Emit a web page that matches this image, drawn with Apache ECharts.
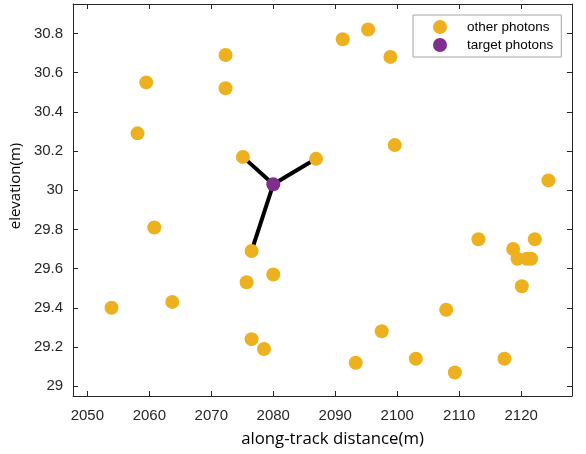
<!DOCTYPE html>
<html>
<head>
<meta charset="utf-8">
<script src="https://cdn.jsdelivr.net/npm/echarts@6/dist/echarts.min.js"></script>
<style>html,body{margin:0;padding:0;background:#fff}#c{width:586px;height:454px}</style>
</head>
<body>
<div id="c"></div>
<script>
// ---- data ----
const otherX = [2059.5, 2072.3, 2072.3, 2058.1, 2075.1, 2060.8, 2091.2, 2095.3, 2098.9, 2086.9, 2099.6, 2124.4, 2076.5, 2075.7, 2080.0, 2053.9, 2063.7, 2076.5, 2078.5, 2113.1, 2118.7, 2119.4, 2120.9, 2121.6, 2122.2, 2120.1, 2107.9, 2097.5, 2093.3, 2103.0, 2109.3, 2117.3];
const otherY = [30.55, 30.69, 30.52, 30.29, 30.17, 29.81, 30.77, 30.82, 30.68, 30.16, 30.23, 30.05, 29.69, 29.53, 29.57, 29.40, 29.43, 29.24, 29.19, 29.75, 29.70, 29.65, 29.65, 29.65, 29.75, 29.51, 29.39, 29.28, 29.12, 29.14, 29.07, 29.14];
const targetX = [2080.0];
const targetY = [30.03];
const linkIdx = [4, 9, 12]; // neighbours of the target photon
const xTicks = [2050, 2060, 2070, 2080, 2090, 2100, 2110, 2120];
const yTicks = [29, 29.2, 29.4, 29.6, 29.8, 30, 30.2, 30.4, 30.6, 30.8];
const seriesNames = ['other photons', 'target photons'];
const xName = 'along-track distance(m)';
const yName = 'elevation(m)';

const ORANGE = '#EDB120', PURPLE = '#7E2F8E', AX = '#262626';
const XMIN = 2047.7, XMAX = 2128.2, YMIN = 28.95, YMAX = 30.95;

const chart = echarts.init(document.getElementById('c'));
const linkSeries = linkIdx.map(i => ({
  type: 'line', silent: true, symbol: 'none', z: 1,
  lineStyle: { color: '#000', width: 4 },
  data: [[targetX[0], targetY[0]], [otherX[i], otherY[i]]]
}));
const tickFont = { fontFamily: 'Liberation Sans, Arial, sans-serif', fontSize: 15, color: AX };
function fmtY(v){ return Math.abs(v - Math.round(v)) < 1e-9 ? String(Math.round(v)) : v.toFixed(1); }

chart.setOption({
  animation: false,
  backgroundColor: '#fff',
  grid: { left: 73, right: 14, top: 4, bottom: 58 },
  legend: {
    orient: 'vertical', left: 413, top: 15,
    padding: [5, 8, 5, 20], itemGap: 4,
    itemWidth: 14, itemHeight: 14,
    borderColor: '#a6a6a6', borderWidth: 1, backgroundColor: '#fff',
    textStyle: { fontFamily: 'Liberation Sans, Arial, sans-serif', fontSize: 13.5, color: '#000', padding: [0, 0, 0, 15] },
    data: [
      { name: seriesNames[0], icon: 'circle', itemStyle: { color: ORANGE } },
      { name: seriesNames[1], icon: 'circle', itemStyle: { color: PURPLE } }
    ]
  },
  xAxis: [
    {
      type: 'value', min: XMIN, max: XMAX, position: 'bottom',
      name: xName, nameLocation: 'middle', nameGap: 35,
      nameTextStyle: { fontFamily: 'Open Sans, Noto Sans, sans-serif', fontSize: 16.8, color: '#000', padding: [0, 0, 0, 20] },
      axisLine: { show: true, lineStyle: { color: AX, width: 1 } },
      axisTick: { show: true, inside: true, length: 5, customValues: xTicks, lineStyle: { color: AX } },
      axisLabel: Object.assign({ show: true, margin: 12, customValues: xTicks, formatter: v => String(Math.round(v)) }, tickFont),
      splitLine: { show: false }
    },
    {
      type: 'value', min: XMIN, max: XMAX, position: 'top',
      axisLine: { show: true, lineStyle: { color: AX, width: 1 } },
      axisTick: { show: true, inside: true, length: 5, customValues: xTicks, lineStyle: { color: AX } },
      axisLabel: { show: false }, splitLine: { show: false }
    }
  ],
  yAxis: [
    {
      type: 'value', min: YMIN, max: YMAX, position: 'left',
      name: yName, nameLocation: 'middle', nameGap: 38, nameRotate: 90,
      nameTextStyle: { fontFamily: 'Open Sans, Noto Sans, sans-serif', fontSize: 15, color: '#000', padding: [0, 0, 0, 28] },
      axisLine: { show: true, lineStyle: { color: AX, width: 1 } },
      axisTick: { show: true, inside: true, length: 5, customValues: yTicks, lineStyle: { color: AX } },
      axisLabel: Object.assign({ show: true, margin: 10, customValues: yTicks, formatter: fmtY }, tickFont),
      splitLine: { show: false }
    },
    {
      type: 'value', min: YMIN, max: YMAX, position: 'right',
      axisLine: { show: true, lineStyle: { color: AX, width: 1 } },
      axisTick: { show: true, inside: true, length: 5, customValues: yTicks, lineStyle: { color: AX } },
      axisLabel: { show: false }, splitLine: { show: false }
    }
  ],
  series: linkSeries.concat([
    {
      name: seriesNames[0], type: 'scatter', symbol: 'circle', symbolSize: 14, z: 3,
      itemStyle: { color: ORANGE, opacity: 1 },
      data: otherX.map((x, i) => [x, otherY[i]])
    },
    {
      name: seriesNames[1], type: 'scatter', symbol: 'circle', symbolSize: 14, z: 4,
      itemStyle: { color: PURPLE, opacity: 1 },
      data: targetX.map((x, i) => [x, targetY[i]])
    }
  ])
});
</script>
</body>
</html>
